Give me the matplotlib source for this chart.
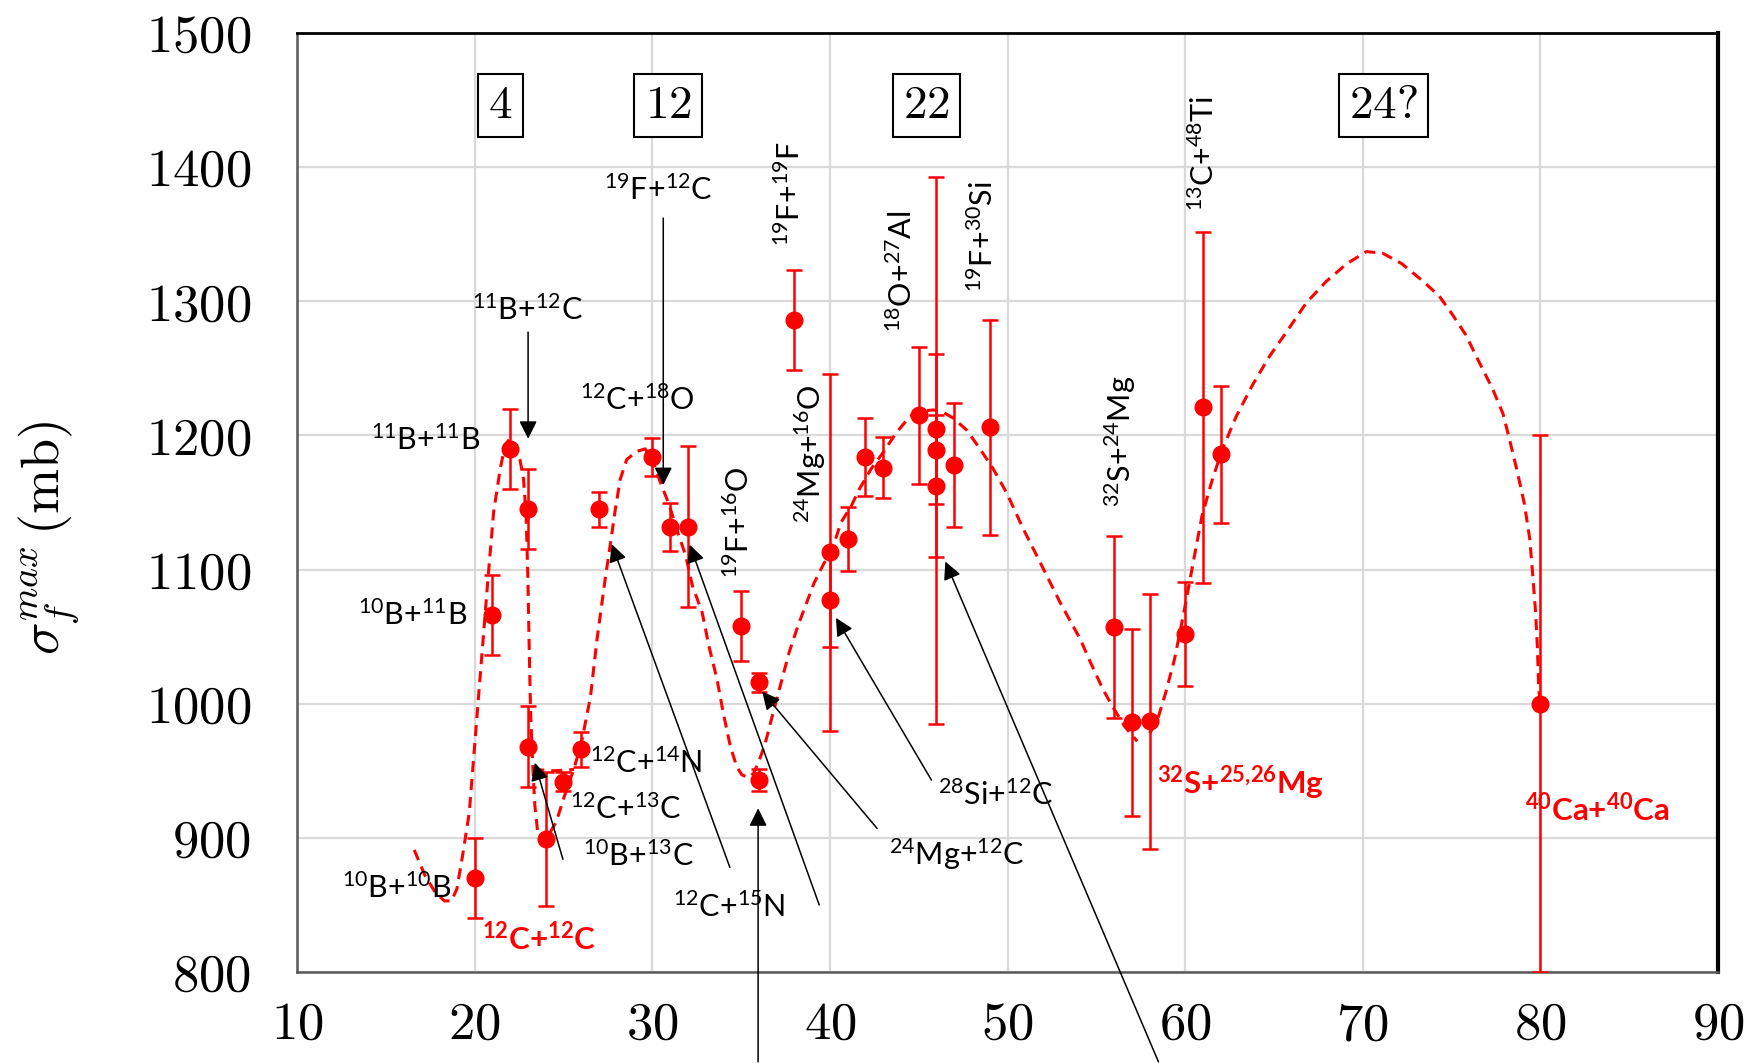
import numpy as np
import matplotlib
matplotlib.use('Agg')
import matplotlib.pyplot as plt
from matplotlib.ticker import MultipleLocator, FuncFormatter

plt.rcParams['mathtext.fontset'] = 'cm'
plt.rcParams['font.family'] = ['Lato', 'DejaVu Sans']

# measured points: system mass A, sigma_f max (mb), error (mb)
mass = [20, 21, 22, 23, 23, 24, 25, 26, 27, 30, 31, 32, 35, 36, 36, 38, 40, 40, 41,
        42, 43, 45, 46, 46, 46, 47, 49, 56, 57, 58, 60, 61, 62, 80]
sigma = [870, 1066, 1190, 1145, 968, 899, 942, 966, 1145, 1184, 1132, 1132, 1058, 1016,
         943, 1286, 1113, 1077, 1123, 1184, 1176, 1215, 1205, 1189, 1162, 1178, 1206,
         1057, 986, 987, 1052, 1221, 1186, 1000]
sigma_err = [30, 30, 30, 30, 30, 50, 7, 13, 13, 14, 18, 60, 26, 7, 8, 37, 133, 35, 24,
             29, 23, 51, 56, 204, 53, 46, 80, 68, 70, 95, 39, 131, 51, 200]

# dashed guide curve (nan = break between pieces)
curve_x = [16.6, 17.2, 17.8, 18.3, 18.7, 19.0, 19.3, 19.7, 20.15, 20.45, 20.75, 21.07,
           21.44, 21.72, 22.0, 22.3, 22.55, 22.75, 22.9, 23.0, 23.07, 23.15, 23.26, 23.39,
           23.57, 23.85, 24.2, 24.6, 25.0, 25.6, 26.0, 26.3, 26.52, 26.89, 27.35, 27.63,
           27.9, 28.19, 28.56, 29.11, 29.6, 30.0, 30.4, 30.96, 31.43, 31.89, 32.26, 32.81,
           33.19, 33.65, 34.0, 34.4, 34.76, 35.04, 35.4, 35.7, 36.0, 36.35, 36.8, 37.2,
           37.7, 38.2, 38.6, 39.11, 39.68, 40.06, 40.62, 41.19, 41.66, 42.32, 42.98, 43.74,
           44.49, 45.06, 45.81, 46.28, 46.94, 47.7, 48.45, 49.2, 49.96, 50.9, 51.85, 52.98,
           54.1, 54.7, 55.4, 56.0, 56.6, 57.3,
           np.nan,
           23.3, 24.5, 25.6,
           np.nan,
           58.0, 58.4, 58.9, 59.4, 59.9, 60.45, 60.95, 61.55, 62.11, 62.87, 63.81, 64.75,
           65.7, 66.83, 67.96, 69.1, 70.2, 71.1, 72.2, 73.3, 74.3, 75.0, 75.8, 76.5, 77.3,
           77.9, 78.3, 78.7, 79.1, 79.4, 79.57, 79.72, 79.83, 79.9, 79.95]
curve_y = [891, 872, 859, 853, 853, 862, 885, 919, 994, 1043, 1093, 1143,
           1175, 1193, 1198, 1190, 1182, 1168, 1140, 1093, 1043, 994, 957, 924,
           902, 897, 903, 912, 929, 952, 970, 990, 1005, 1048, 1093, 1118,
           1143, 1167, 1182, 1188, 1190, 1182, 1167, 1148, 1128, 1110, 1088, 1068,
           1043, 1018, 993, 968, 953, 947, 945, 948, 957, 970, 993, 1013,
           1038, 1058, 1072, 1090, 1105, 1112, 1135, 1147, 1160, 1175, 1187, 1202,
           1214, 1218, 1219, 1218, 1213, 1204, 1190, 1175, 1157, 1130, 1105, 1075,
           1048, 1030, 1010, 996, 983, 972,
           np.nan,
           951, 950, 951,
           np.nan,
           978, 986, 1008, 1033, 1066, 1105, 1140, 1168, 1190, 1214, 1238, 1259,
           1277, 1299, 1315, 1328, 1337, 1336, 1328, 1316, 1304, 1291, 1275, 1256, 1235,
           1216, 1195, 1173, 1149, 1123, 1096, 1070, 1043, 1014, 1005]

# reaction labels
h_labels = [r'$\mathregular{^{10}}$B+$\mathregular{^{10}}$B',
            r'$\mathregular{^{10}}$B+$\mathregular{^{11}}$B',
            r'$\mathregular{^{11}}$B+$\mathregular{^{11}}$B',
            r'$\mathregular{^{11}}$B+$\mathregular{^{12}}$C',
            r'$\mathregular{^{12}}$C+$\mathregular{^{18}}$O',
            r'$\mathregular{^{19}}$F+$\mathregular{^{12}}$C',
            r'$\mathregular{^{12}}$C+$\mathregular{^{14}}$N',
            r'$\mathregular{^{12}}$C+$\mathregular{^{13}}$C',
            r'$\mathregular{^{10}}$B+$\mathregular{^{13}}$C',
            r'$\mathregular{^{12}}$C+$\mathregular{^{15}}$N',
            r'$\mathregular{^{24}}$Mg+$\mathregular{^{12}}$C',
            r'$\mathregular{^{28}}$Si+$\mathregular{^{12}}$C']
h_x = [18.7, 19.6, 20.3, 22.97, 29.15, 30.35, 26.48, 25.36, 26.1, 31.16, 43.32, 46.09]
h_y = [863, 1066, 1197, 1294, 1227, 1383, 956, 922, 887, 849, 888, 932]
h_ha = ['right', 'right', 'right', 'center', 'center', 'center',
        'left', 'left', 'left', 'left', 'left', 'left']

v_labels = [r'$\mathregular{^{19}}$F+$\mathregular{^{16}}$O',
            r'$\mathregular{^{19}}$F+$\mathregular{^{19}}$F',
            r'$\mathregular{^{24}}$Mg+$\mathregular{^{16}}$O',
            r'$\mathregular{^{18}}$O+$\mathregular{^{27}}$Al',
            r'$\mathregular{^{19}}$F+$\mathregular{^{30}}$Si',
            r'$\mathregular{^{32}}$S+$\mathregular{^{24}}$Mg',
            r'$\mathregular{^{13}}$C+$\mathregular{^{48}}$Ti']
v_x = [34.85, 37.74, 38.9, 44.07, 48.63, 56.37, 61.05]
v_y = [1094, 1341, 1135, 1277, 1307, 1147, 1367]

red_labels = [r'$\mathregular{^{12}}$C+$\mathregular{^{12}}$C',
              r'$\mathregular{^{32}}$S+$\mathregular{^{25,\!26}}$Mg',
              r'$\mathregular{^{40}}$Ca+$\mathregular{^{40}}$Ca']
red_x = [20.39, 58.43, 79.11]
red_y = [826, 941, 922]

box_labels = [r'$4$', r'$12$', r'$22$', r'$24?$']
box_x = [21.46, 30.9, 45.44, 71.17]
box_y = 1446

# arrows: (tail, head)
arrow_tail = [(23.01, 1277), (30.62, 1362), (24.97, 884), (34.37, 878), (39.4, 850),
              (42.66, 907), (45.72, 943), (58.5, 733), (35.96, 733)]
arrow_head = [(23.01, 1197.5), (30.62, 1163), (23.39, 956), (27.72, 1119), (32.11, 1118.5),
              (36.19, 1009), (40.34, 1064), (46.5, 1106), (35.96, 922)]

fig = plt.figure(figsize=(17.56, 10.63), dpi=100)
ax = fig.add_axes([297 / 1756, 91 / 1063, 1421 / 1756, 939 / 1063])
ax.set_xlim(10, 90)
ax.set_ylim(800, 1500)
ax.xaxis.set_major_locator(MultipleLocator(10))
ax.yaxis.set_major_locator(MultipleLocator(100))
ax.xaxis.set_major_formatter(FuncFormatter(lambda v, p: f'${v:.0f}$'))
ax.yaxis.set_major_formatter(FuncFormatter(lambda v, p: f'${v:.0f}$'))
ax.tick_params(axis='x', length=0, labelsize=38, pad=21)
ax.tick_params(axis='y', length=0, labelsize=38, pad=33)
ax.grid(True, color='#d9d9d9', lw=1.6)
ax.set_axisbelow(True)
for side in ['left', 'bottom']:
    ax.spines[side].set_color('#595959')
    ax.spines[side].set_linewidth(1.8)
ax.spines['top'].set_linewidth(2)
ax.spines['right'].set_linewidth(3)

ax.plot(curve_x, curve_y, color='red', lw=2.2, ls=(0, (3.6, 2.3)), zorder=3)
ax.errorbar(mass, sigma, yerr=sigma_err, fmt='o', color='red', ms=12,
            elinewidth=1.8, capsize=5.5, capthick=1.8, zorder=4)

for t, x, y, ha in zip(h_labels, h_x, h_y, h_ha):
    ax.text(x, y, t, fontsize=22, ha=ha, va='center', color='black', zorder=6)
for t, x, y in zip(v_labels, v_x, v_y):
    ax.text(x, y, t, fontsize=22, ha='center', va='bottom', rotation=90,
            color='black', zorder=6)
for t, x, y in zip(red_labels, red_x, red_y):
    ax.text(x, y, t, fontsize=22.5, ha='left', va='center', color='red',
            fontweight='bold', zorder=6)
for t, x in zip(box_labels, box_x):
    ax.text(x, box_y, t, fontsize=34, ha='center', va='center', zorder=6,
            bbox=dict(boxstyle='square,pad=0.22', fc='white', ec='black', lw=1.5))

for tail, head in zip(arrow_tail, arrow_head):
    ax.annotate('', xy=head, xytext=tail, annotation_clip=False, zorder=5,
                arrowprops=dict(arrowstyle='-|>', color='black', lw=1.1,
                                shrinkA=0, shrinkB=0, mutation_scale=27,
                                clip_on=False))

ax.set_ylabel(r'$\sigma_f^{max}\,(\mathrm{mb})$', fontsize=39)
ax.yaxis.set_label_coords(-0.152, 0.463)

fig.savefig('out.png', dpi=100)
